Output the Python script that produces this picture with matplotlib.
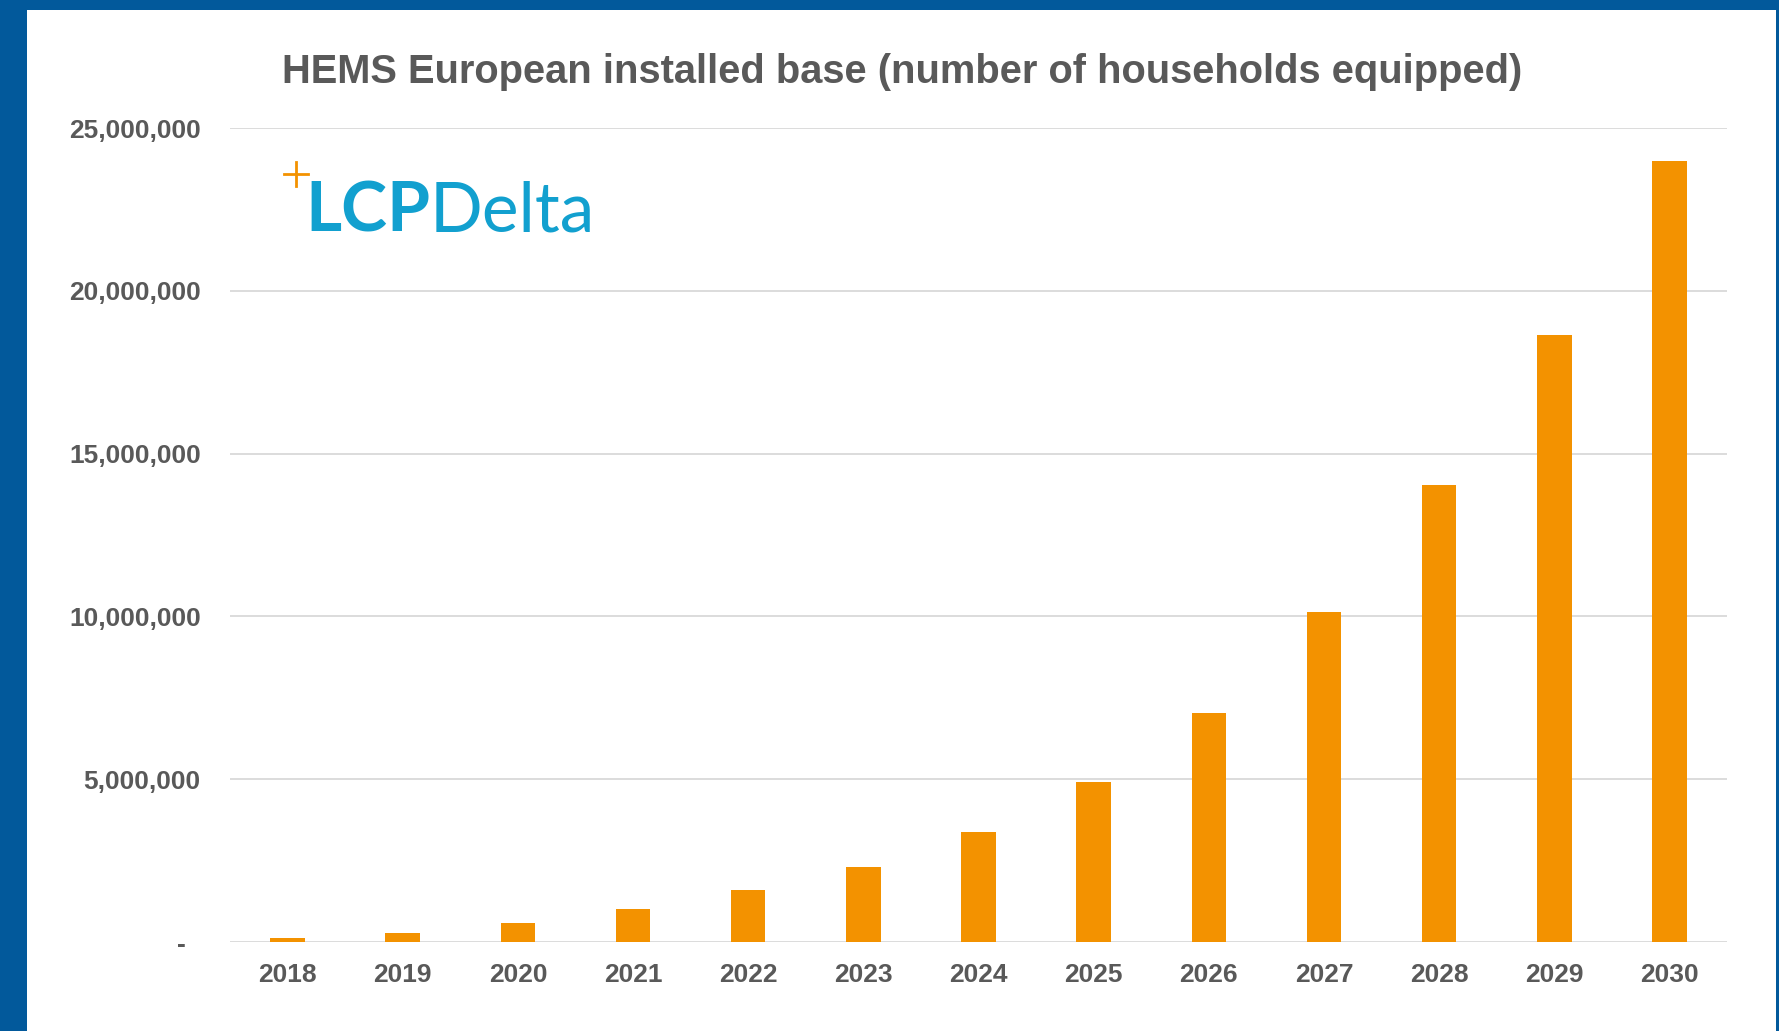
import numpy as np
import matplotlib
matplotlib.use("Agg")
from matplotlib import pyplot as plt
from matplotlib.lines import Line2D
from matplotlib.ticker import FuncFormatter

# data
years = ["2018", "2019", "2020", "2021", "2022", "2023", "2024",
         "2025", "2026", "2027", "2028", "2029", "2030"]
households = [120000, 270000, 570000, 1000000, 1600000, 2300000, 3380000,
              4920000, 7040000, 10150000, 14050000, 18650000, 24000000]
y_ticks = [0, 5000000, 10000000, 15000000, 20000000, 25000000]

title = "HEMS European installed base (number of households equipped)"
text_col = "#595959"
bar_col = "#F39200"
blue = "#02599B"
logo_blue = "#12A0CF"

plt.rcParams["font.family"] = ["Liberation Sans", "DejaVu Sans"]

fig = plt.figure(figsize=(17.79, 10.31), dpi=100)
fig.patch.set_facecolor(blue)

# white panel inside the blue frame
panel = plt.Rectangle((27 / 1779, 0), (1776 - 27) / 1779, 1 - 10 / 1031,
                      transform=fig.transFigure, facecolor="white",
                      edgecolor="none", zorder=-10)
fig.patches.append(panel)

ax = fig.add_axes([230 / 1779, 1 - 942 / 1031, (1727 - 230) / 1779, (942 - 128) / 1031])
ax.set_facecolor("none")
ax.set_zorder(1)

x = np.arange(len(years))
ax.bar(x, households, width=0.30, color=bar_col, zorder=3)

ax.set_xlim(-0.5, len(years) - 0.5)
ax.set_ylim(0, 25000000)
ax.set_yticks(y_ticks)
ax.yaxis.set_major_formatter(FuncFormatter(lambda v, p: "-  " if v == 0 else "{:,.0f}".format(v)))
ax.set_xticks(x)
ax.set_xticklabels(years)

ax.grid(axis="y", color="#D9D9D9", linewidth=1.3, zorder=0)
for s in ax.spines.values():
    s.set_visible(False)
ax.tick_params(axis="both", length=0, labelsize=19, labelcolor=text_col)
ax.tick_params(axis="x", pad=15)
ax.tick_params(axis="y", pad=21)
for lab in ax.get_xticklabels() + ax.get_yticklabels():
    lab.set_fontweight("bold")

fig.text(902 / 1779, 1 - 83 / 1031, title, ha="center", va="baseline",
         fontsize=28.7, fontweight="bold", color=text_col)

# LCPDelta logo
lcp = fig.text(305 / 1779, 1 - 232 / 1031, "LCP", ha="left", va="baseline",
               fontsize=50, fontweight="bold", color=logo_blue, family="Lato")
fig.canvas.draw()
ax.annotate("Delta", xy=(1, 0), xycoords=lcp, xytext=(0, 0),
            textcoords="offset points", ha="left", va="bottom",
            fontsize=50, color=logo_blue, family="Lato", annotation_clip=False)
cx, cy, h = 296 / 1779, 1 - 174 / 1031, 12
fig.add_artist(Line2D([cx - h / 1779, cx + h / 1779], [cy, cy], color=bar_col,
                      linewidth=2, transform=fig.transFigure))
fig.add_artist(Line2D([cx, cx], [cy - h / 1031, cy + h / 1031], color=bar_col,
                      linewidth=2, transform=fig.transFigure))

fig.savefig("out.png", dpi=100, facecolor=fig.get_facecolor())
print("Done")
